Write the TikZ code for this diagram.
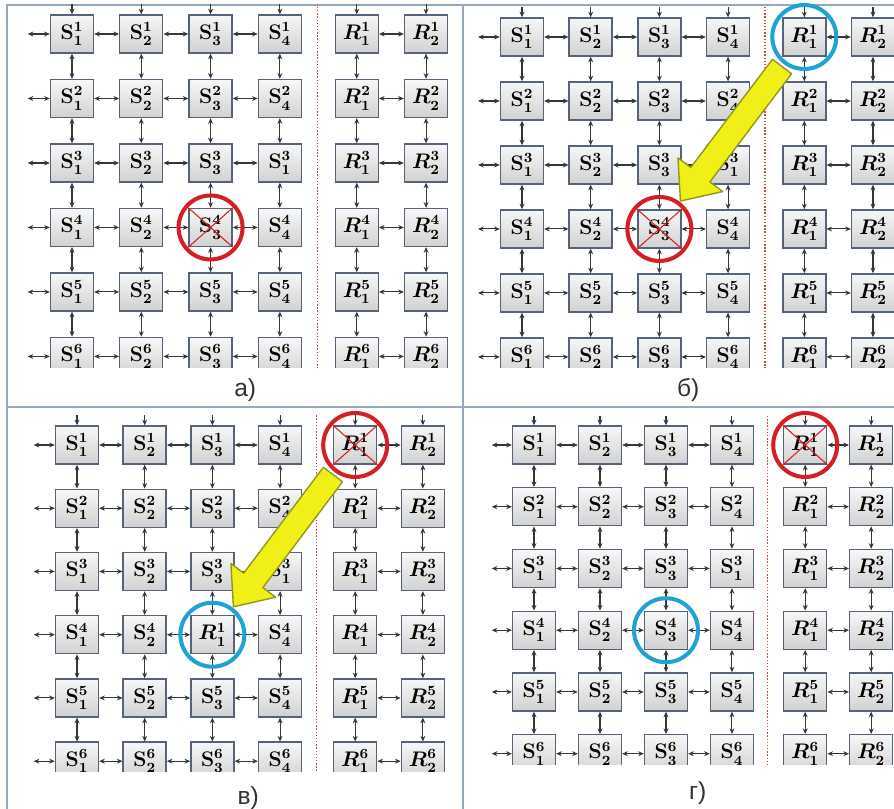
\documentclass[tikz,border=0pt]{standalone}
\usepackage{fontspec}
\usetikzlibrary{arrows.meta,calc}
\newfontfamily\tagfont{Liberation Sans}
\definecolor{edge}{RGB}{85,100,122}
\definecolor{wire}{RGB}{55,55,55}
\definecolor{panel}{RGB}{150,168,186}
\definecolor{border}{RGB}{205,70,70}
\definecolor{alarm}{RGB}{212,32,36}
\definecolor{spare}{RGB}{32,162,212}
\definecolor{jump}{RGB}{240,240,24}
\definecolor{jumpedge}{RGB}{150,150,30}

% one panel: 6 rows, 4 S columns and 2 R columns
% #1 panel name, #2 = 1 when R^1_1 stands in place of S^4_3
\newcommand{\meshgrid}[2]{%
  \foreach \row in {1,...,6}{
    \foreach \col in {1,...,6}{
      \pgfmathsetmacro\xx{\col<5 ? \col-1 : \col-0.89}
      \pgfmathtruncatemacro\idx{\col>4 ? \col-4 : ((\row==3 && \col==4) ? 1 : \col)}
      \pgfmathtruncatemacro\swap{(#2==1 && \row==4 && \col==3) ? 1 : 0}
      \ifnum\col>4 \def\lbl{$R^{\row}_{\idx}$}\else\def\lbl{$\mathbf{S}^{\row}_{\idx}$}\fi
      \ifnum\swap=1 \def\lbl{$R^{1}_{1}$}\fi
      \node[cell] (#1-\row-\col) at (\xx,\row-1) {\lbl};
    }
  }
  \foreach \col in {1,...,6}{
    \pgfmathsetmacro\xx{\col<5 ? \col-1 : \col-0.89}
    \coordinate (#1-t\col) at (\xx,-0.47);
    \draw[link,->] (#1-t\col) -- (#1-1-\col);
    \foreach \row [evaluate=\row as \nxt using int(\row+1)] in {1,...,5}
      \draw[link,<->] (#1-\row-\col) -- (#1-\nxt-\col);
  }
  \foreach \row in {1,...,6}{
    \coordinate (#1-l\row) at (-0.64,\row-1);
    \draw[link,<->] (#1-l\row) -- (#1-\row-1);
    \foreach \col [evaluate=\col as \nxt using int(\col+1)] in {1,2,3,5}
      \draw[link,<->] (#1-\row-\col) -- (#1-\row-\nxt);
  }
  \draw[divider] (3.54,-0.47) -- (3.54,5.2);
}

% big yellow arrow from one ring to another
\newcommand{\jumparrow}[3]{%
  \coordinate (#1-a) at ($(#2.center)!0.74cm!(#3.center)$);
  \coordinate (#1-b) at ($(#3.center)!0.70cm!(#2.center)$);
  \coordinate (#1-c) at ($(#1-b)!0.66cm!(#1-a)$);
  \filldraw[jumpbody] ($(#1-a)!0.24cm!90:(#1-b)$) -- ($(#1-c)!0.24cm!-90:(#1-a)$)
    -- ($(#1-c)!0.56cm!-90:(#1-a)$) -- (#1-b) -- ($(#1-c)!0.56cm!90:(#1-a)$)
    -- ($(#1-c)!0.24cm!90:(#1-a)$) -- ($(#1-a)!0.24cm!-90:(#1-b)$) -- cycle;
}

\begin{document}
\begin{tikzpicture}[x=0.02cm,y=-0.02cm,
  cell/.style={draw=edge,line width=0.8pt,top color=black!3,bottom color=black!18,minimum width=0.86cm,minimum height=0.76cm,inner sep=0pt,font=\large\boldmath},
  link/.style={draw=wire,line width=0.6pt,>={Stealth[length=3.2pt,width=2.8pt]}},
  divider/.style={draw=border,densely dotted,line width=0.8pt},
  frame/.style={draw=panel,line width=1.2pt},
  ring/.style={circle,draw=#1,line width=2.3pt,minimum size=1.28cm,inner sep=0pt},
  xline/.style={draw=alarm,line width=0.6pt},
  jumpbody/.style={fill=jump,draw=jumpedge,line width=0.8pt,line join=round},
  tag/.style={font=\tagfont\fontsize{14}{16}\selectfont,text=black!80}]

\useasboundingbox (0,0) rectangle (894,809);
\fill[white] (0,0) rectangle (894,809);
\draw[frame] (7,809) -- (7,5) -- (894,5);
\draw[frame] (7,407) -- (894,407);
\draw[frame] (463,5) -- (463,809);

% a)
\begin{scope}[shift={(72,34)},x=1.386cm,y=-1.29cm]
\begin{scope}
\clip (-0.9,-0.55) rectangle (5.6,5.17);
\meshgrid{a}{0}
\end{scope}
\draw[xline] (a-4-3.north west) -- (a-4-3.south east) (a-4-3.north east) -- (a-4-3.south west);
\node[ring=alarm] (a-fail) at (a-4-3) {};
\node[tag] (a-tag) at (2.5,5.52) {а)};
\end{scope}

% б)
\begin{scope}[shift={(522,37)},x=1.374cm,y=-1.28cm]
\begin{scope}
\clip (-0.9,-0.55) rectangle (5.6,5.17);
\meshgrid{b}{0}
\end{scope}
\draw[xline] (b-4-3.north west) -- (b-4-3.south east) (b-4-3.north east) -- (b-4-3.south west);
\node[ring=alarm] (b-fail) at (b-4-3) {};
\node[ring=spare] (b-spare) at (b-1-5) {};
\jumparrow{b-jump}{b-spare}{b-fail}
\node[tag] (b-tag) at (2.42,5.52) {б)};
\end{scope}

% в)
\begin{scope}[shift={(77,445)},x=1.354cm,y=-1.265cm]
\begin{scope}
\clip (-0.9,-0.55) rectangle (5.6,5.17);
\meshgrid{c}{1}
\end{scope}
\draw[xline] (c-1-5.north west) -- (c-1-5.south east) (c-1-5.north east) -- (c-1-5.south west);
\node[ring=alarm] (c-fail) at (c-1-5) {};
\node[ring=spare] (c-spare) at (c-4-3) {};
\jumparrow{c-jump}{c-fail}{c-spare}
\node[tag] (c-tag) at (2.53,5.58) {в)};
\end{scope}

% г)
\begin{scope}[shift={(534,445)},x=1.32cm,y=-1.235cm]
\begin{scope}
\clip (-0.9,-0.55) rectangle (5.6,5.17);
\meshgrid{d}{0}
\end{scope}
\draw[xline] (d-1-5.north west) -- (d-1-5.south east) (d-1-5.north east) -- (d-1-5.south west);
\node[ring=alarm] (d-fail) at (d-1-5) {};
\node[ring=spare] (d-spare) at (d-4-3) {};
\node[tag] (d-tag) at (2.48,5.64) {г)};
\end{scope}
\end{tikzpicture}
\end{document}
